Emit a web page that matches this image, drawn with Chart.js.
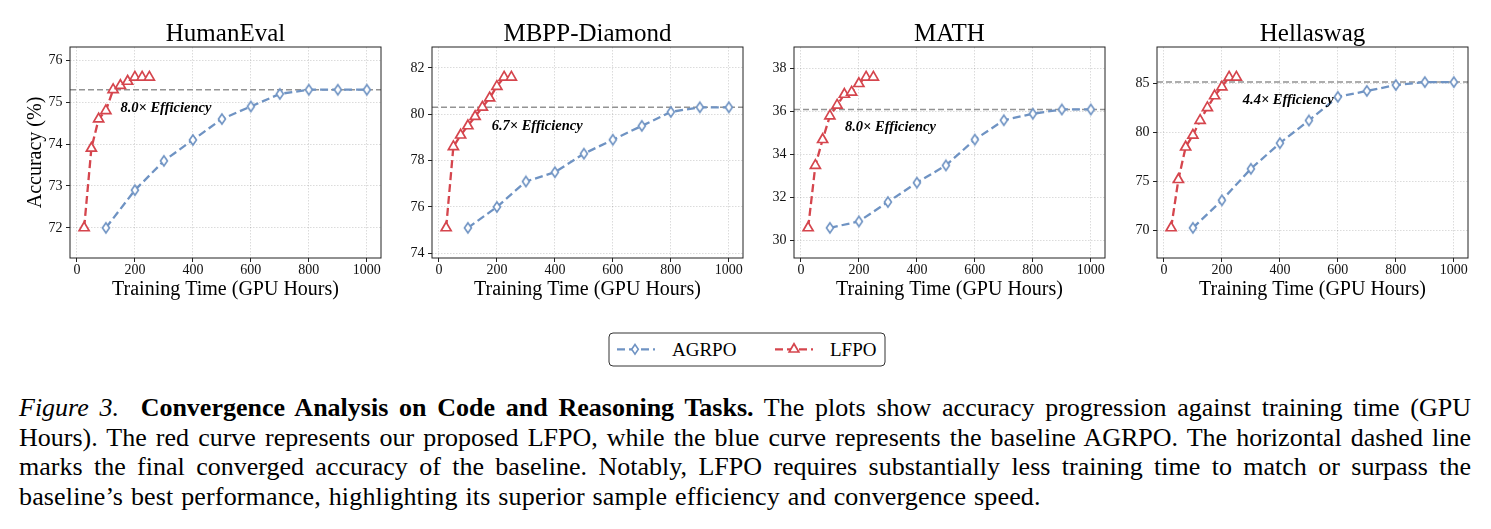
<!DOCTYPE html>
<html lang="en">
<head>
<meta charset="UTF-8">
<title>Convergence Analysis</title>
<script src="https://cdn.jsdelivr.net/npm/chart.js"></script>
<style>
  body { margin: 0; background: #fff; width: 1491px; height: 529px; overflow: hidden; position: relative; }
  canvas.panel { position: absolute; top: 0; }
  #legend { position: absolute; left: 608px; top: 332px; }
  #caption { position: absolute; left: 19px; top: 393px; width: 1452px;
             font-family: 'Liberation Serif', 'DejaVu Serif', serif; font-size: 26px;
             line-height: 29.6px; color: #000; }
  #caption div { text-align: justify; text-align-last: justify; white-space: nowrap; }
  #caption div.last { text-align-last: left; letter-spacing: 0.15px; word-spacing: 1.2px; }
</style>
</head>
<body>
<canvas class="panel" id="p1"></canvas>
<canvas class="panel" id="p2"></canvas>
<canvas class="panel" id="p3"></canvas>
<canvas class="panel" id="p4"></canvas>

<svg id="legend" width="278" height="35">
  <rect x="1" y="1" width="276" height="33" rx="4" fill="#fff" stroke="#333" stroke-width="1"/>
  <line x1="9" y1="17.3" x2="47" y2="17.3" stroke="#6F93C3" stroke-width="2.3" stroke-dasharray="8 4"/>
  <path d="M27 12.5 L30.3 17.3 L27 22.1 L23.7 17.3 Z" fill="#fff" stroke="#6F93C3" stroke-width="1.6"/>
  <text x="64" y="24" font-family="'Liberation Serif', serif" font-size="19">AGRPO</text>
  <line x1="167" y1="17.3" x2="205" y2="17.3" stroke="#D5454D" stroke-width="2.3" stroke-dasharray="8 4"/>
  <path d="M186 11.8 L190.8 20 L181.2 20 Z" fill="#fff" stroke="#D5454D" stroke-width="1.7"/>
  <text x="222" y="24" font-family="'Liberation Serif', serif" font-size="19">LFPO</text>
</svg>

<div id="caption">
  <div><i>Figure 3.</i>&nbsp; <b>Convergence Analysis on Code and Reasoning Tasks.</b> The plots show accuracy progression against training time (GPU</div>
  <div>Hours). The red curve represents our proposed LFPO, while the blue curve represents the baseline AGRPO. The horizontal dashed line</div>
  <div>marks the final converged accuracy of the baseline. Notably, LFPO requires substantially less training time to match or surpass the</div>
  <div class="last">baseline’s best performance, highlighting its superior sample efficiency and convergence speed.</div>
</div>

<script>
// GPU hours at which each method was evaluated
const lfpoHours = [25, 50, 75, 100, 125, 150, 175, 200, 225, 250];
const agrpoHours = [100, 200, 300, 400, 500, 600, 700, 800, 900, 1000];
const xTicks = [0, 200, 400, 600, 800, 1000];

// HumanEval
const humanEvalLfpo = [72.0, 73.9, 74.6, 74.8, 75.3, 75.4, 75.5, 75.6, 75.6, 75.6];
const humanEvalAgrpo = [72.0, 72.9, 73.6, 74.1, 74.6, 74.9, 75.2, 75.3, 75.3, 75.3];
const humanEvalBest = 75.3;
const humanEvalTicks = [72, 73, 74, 75, 76];

// MBPP-Diamond
const mbppLfpo = [75.1, 78.6, 79.1, 79.5, 79.9, 80.3, 80.7, 81.2, 81.6, 81.6];
const mbppAgrpo = [75.1, 76.0, 77.1, 77.5, 78.3, 78.9, 79.5, 80.1, 80.3, 80.3];
const mbppBest = 80.3;
const mbppTicks = [74, 76, 78, 80, 82];

// MATH
const mathLfpo = [30.6, 33.5, 34.7, 35.8, 36.3, 36.8, 36.9, 37.3, 37.6, 37.6];
const mathAgrpo = [30.6, 30.9, 31.8, 32.7, 33.5, 34.7, 35.6, 35.9, 36.1, 36.1];
const mathBest = 36.1;
const mathTicks = [30, 32, 34, 36, 38];

// Hellaswag
const hellaLfpo = [70.3, 75.2, 78.5, 79.7, 81.2, 82.5, 83.7, 84.6, 85.6, 85.6];
const hellaAgrpo = [70.3, 73.1, 76.3, 78.9, 81.2, 83.6, 84.2, 84.8, 85.1, 85.1];
const hellaBest = 85.1;
const hellaTicks = [70, 75, 80, 85];

const titles = ['HumanEval', 'MBPP-Diamond', 'MATH', 'Hellaswag'];
const efficiency = ['8.0× Efficiency', '6.7× Efficiency', '8.0× Efficiency', '4.4× Efficiency'];

const BLUE = '#6F93C3';
const RED = '#D5454D';
const SERIF = "'Liberation Serif', 'DejaVu Serif', serif";
const X_MIN = -23.75, X_MAX = 1048.75;

// thin diamond marker like matplotlib 'd'
function thinDiamond() {
    const c = document.createElement('canvas');
    c.width = 12; c.height = 14;
    const g = c.getContext('2d');
    g.beginPath();
    g.moveTo(6, 2.0); g.lineTo(9.5, 7); g.lineTo(6, 12); g.lineTo(2.5, 7); g.closePath();
    g.fillStyle = '#fff'; g.fill();
    g.lineWidth = 1.6; g.strokeStyle = BLUE; g.stroke();
    return c;
}
const diamond = thinDiamond();

// title above the axes, frame, and efficiency note
const panelDecor = {
    id: 'panelDecor',
    afterDatasetsDraw(chart, args, opts) {
        const {ctx, chartArea: a, scales} = chart;
        ctx.save();
        ctx.strokeStyle = '#222';
        ctx.lineWidth = 1;
        ctx.strokeRect(a.left, a.top, a.right - a.left, a.bottom - a.top);
        ctx.fillStyle = '#000';
        ctx.textBaseline = 'middle';
        ctx.textAlign = 'center';
        ctx.font = '25px ' + SERIF;
        ctx.fillText(opts.title, (a.left + a.right) / 2, 34);
        ctx.textAlign = 'left';
        ctx.font = 'bold italic 14.5px ' + SERIF;
        ctx.fillText(opts.note, scales.x.getPixelForValue(opts.noteX), scales.y.getPixelForValue(opts.noteY));
        ctx.restore();
    }
};

function pts(xs, ys) { return xs.map((x, i) => ({x: x, y: ys[i]})); }

function makePanel(id, left, axisW, idx, lfpo, agrpo, best, yTicks, noteX, noteY, showYTitle) {
    const el = document.getElementById(id);
    el.style.left = left + 'px';
    el.width = axisW + 311 + 14;
    el.height = 310;
    const lo = Math.min(...lfpo, ...agrpo), hi = Math.max(...lfpo, ...agrpo);
    const pad = 0.2 * (hi - lo);
    const tickFont = { family: SERIF, size: 14 };
    new Chart(el, {
        type: 'line',
        data: {
            datasets: [
                {
                    data: pts(agrpoHours, agrpo),
                    borderColor: BLUE, borderWidth: 2.3, borderDash: [8, 4],
                    pointStyle: diamond, pointRadius: 5, fill: false, tension: 0
                },
                {
                    data: pts(lfpoHours, lfpo),
                    borderColor: RED, borderWidth: 2.3, borderDash: [8, 4],
                    pointStyle: 'triangle', pointRadius: 5.8, pointBorderWidth: 1.7,
                    pointBackgroundColor: '#fff', pointBorderColor: RED, fill: false, tension: 0
                },
                {
                    data: [{x: X_MIN, y: best}, {x: X_MAX, y: best}],
                    borderColor: '#939393', borderWidth: 1.5, borderDash: [6, 3],
                    pointRadius: 0, fill: false
                }
            ]
        },
        options: {
            responsive: false,
            animation: false,
            events: [],
            layout: { padding: { top: 47, right: 14, left: 0, bottom: 0 } },
            plugins: {
                legend: { display: false },
                tooltip: { enabled: false },
                panelDecor: { title: titles[idx], note: efficiency[idx], noteX: noteX, noteY: noteY }
            },
            scales: {
                x: {
                    type: 'linear', min: X_MIN, max: X_MAX,
                    afterBuildTicks: s => { s.ticks = xTicks.map(v => ({value: v})); },
                    afterFit: s => { s.height = 52; },
                    ticks: { callback: v => String(v), font: tickFont, color: '#111', padding: 0, maxRotation: 0 },
                    grid: { color: 'rgba(0,0,0,0.18)', lineWidth: 0.8, tickColor: '#222', tickLength: 4, tickWidth: 1, tickBorderDash: [] },
                    border: { display: false, dash: [1.5, 1.5] },
                    title: { display: true, text: 'Training Time (GPU Hours)', font: { family: SERIF, size: 20 }, color: '#000', padding: { top: 0, bottom: 8.5 } }
                },
                y: {
                    type: 'linear', min: lo - pad, max: hi + pad,
                    afterBuildTicks: s => { s.ticks = yTicks.map(v => ({value: v})); },
                    afterFit: s => { s.width = axisW; },
                    ticks: { callback: v => String(v), font: tickFont, color: '#111', padding: 3.5 },
                    grid: { color: 'rgba(0,0,0,0.18)', lineWidth: 0.8, tickColor: '#222', tickLength: 4, tickWidth: 1, tickBorderDash: [] },
                    border: { display: false, dash: [1.5, 1.5] },
                    title: { display: showYTitle, text: 'Accuracy (%)', font: { family: SERIF, size: 20 }, color: '#000', padding: { top: 24, bottom: 0 } }
                }
            }
        },
        plugins: [panelDecor]
    });
}

makePanel('p1', 0, 70, 0, humanEvalLfpo, humanEvalAgrpo, humanEvalBest, humanEvalTicks, 150, 74.86, true);
makePanel('p2', 385, 47, 1, mbppLfpo, mbppAgrpo, mbppBest, mbppTicks, 182, 79.47, false);
makePanel('p3', 750, 44, 2, mathLfpo, mathAgrpo, mathBest, mathTicks, 152, 35.25, false);
makePanel('p4', 1110, 47, 3, hellaLfpo, hellaAgrpo, hellaBest, hellaTicks, 272, 83.23, false);
</script>
</body>
</html>
